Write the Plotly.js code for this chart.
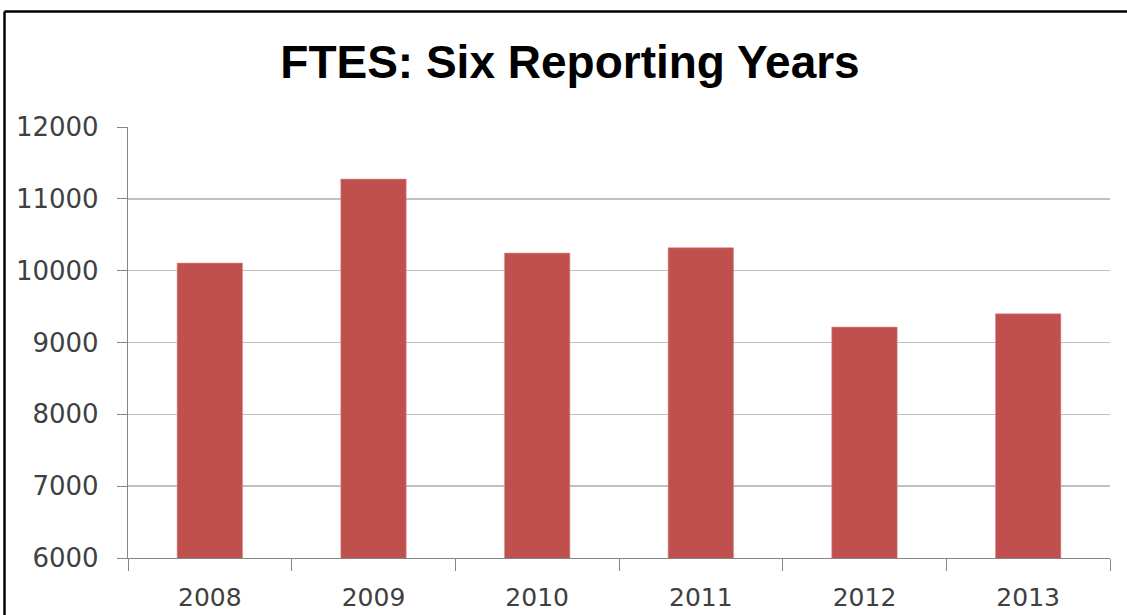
<!DOCTYPE html>
<html>
<head>
<meta charset="utf-8">
<script src="https://cdn.plot.ly/plotly-3.0.1.min.js"></script>
<style>
  html, body { margin: 0; padding: 0; background: #ffffff; overflow: hidden; }
  #chart { width: 1127px; height: 615px; }
</style>
</head>
<body>
<div id="chart"></div>
<script>
const years = ["2008", "2009", "2010", "2011", "2012", "2013"];
const ftes = [10106, 11275, 10245, 10320, 9215, 9400];
const yTicks = [6000, 7000, 8000, 9000, 10000, 11000, 12000];
const chartTitle = "FTES: Six Reporting Years";

const W = 1127, H = 615;
const mL = 128, mR = 17, mT = 127, mB = 57;
const pw = W - mL - mR, ph = H - mT - mB;
// outer black frame (only its top and left edges fall inside the picture)
const fx0 = (4.5 - mL) / pw, fx1 = (W - mL) / pw;
const fy1 = (H - mB - 11.5) / ph, fy0 = (H - mB - H) / ph;

const trace = {
  type: "bar",
  x: years,
  y: ftes,
  marker: { color: "#C0504D", line: { color: "#D99694", width: 0.6 } },
  hoverinfo: "x+y"
};

const layout = {
  width: W, height: H,
  margin: { l: mL, r: mR, t: mT, b: mB, pad: 0 },
  paper_bgcolor: "#ffffff",
  plot_bgcolor: "#ffffff",
  showlegend: false,
  bargap: 0.6,
  title: {
    text: chartTitle,
    font: { family: "Liberation Sans Narrow, Arial Narrow, Liberation Sans, sans-serif", size: 46, color: "#000000", weight: "bold" },
    x: 570 / W, xref: "container", xanchor: "center",
    y: 1 - 62 / H, yref: "container", yanchor: "middle"
  },
  xaxis: {
    type: "category",
    showgrid: false,
    showline: true, linecolor: "#868686", linewidth: 1.2,
    ticks: "outside", tickson: "boundaries", ticklen: 12, tickcolor: "#868686", tickwidth: 1,
    tickfont: { family: "DejaVu Sans, sans-serif", size: 25, color: "#404040" },
    ticklabelstandoff: 17,
    fixedrange: true
  },
  yaxis: {
    range: [6000, 12000],
    tickvals: yTicks,
    ticktext: yTicks.map(String),
    showgrid: true, gridcolor: "#c0c0c0", gridwidth: 1.4,
    showline: true, linecolor: "#868686", linewidth: 1.2,
    ticks: "outside", ticklen: 10, tickcolor: "#868686", tickwidth: 1,
    tickfont: { family: "DejaVu Sans, sans-serif", size: 26, color: "#404040" },
    ticklabelstandoff: 13,
    zeroline: false,
    fixedrange: true
  },
  shapes: [
    { type: "line", xref: "paper", yref: "paper", x0: fx0, x1: fx1, y0: fy1, y1: fy1,
      line: { color: "#000000", width: 2.5 }, layer: "above" },
    { type: "line", xref: "paper", yref: "paper", x0: fx0, x1: fx0, y0: fy0, y1: fy1,
      line: { color: "#000000", width: 2.5 }, layer: "above" }
  ]
};

Plotly.newPlot("chart", [trace], layout, { displayModeBar: false, staticPlot: true });
</script>
</body>
</html>
